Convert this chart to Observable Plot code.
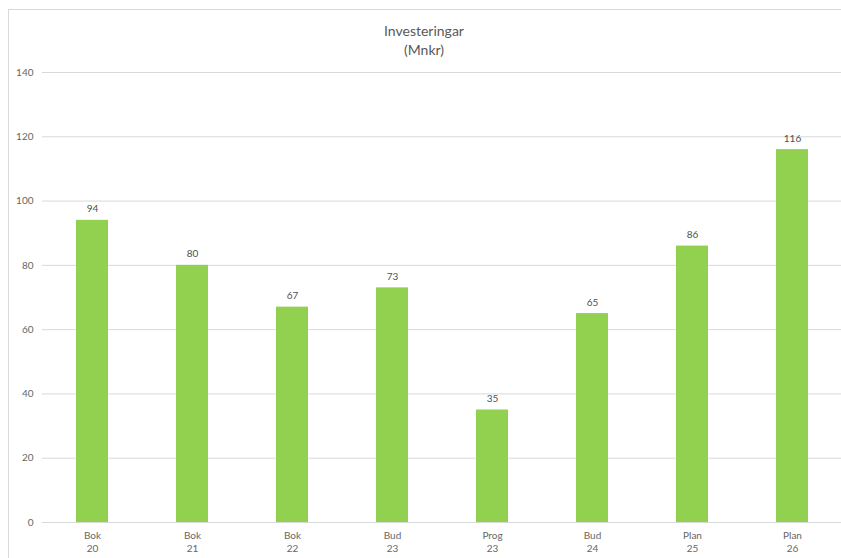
<!DOCTYPE html>
<html>
<head>
<meta charset="utf-8">
<script src="https://cdn.jsdelivr.net/npm/d3@7"></script>
<script src="https://cdn.jsdelivr.net/npm/@observablehq/plot@0.6"></script>
<style>
  html, body { margin: 0; padding: 0; background: #fff; overflow: hidden; }
  #wrap { position: relative; width: 841px; height: 558px; font-family: Lato, "Open Sans", sans-serif; }
  #frame { position: absolute; left: 8px; top: 9px; width: 840px; height: 560px; border: 1px solid #d9d9d9; box-sizing: border-box; }
  #title { position: absolute; left: 0; width: 848px; top: 21px; text-align: center; color: #595959; font-size: 14px; line-height: 19px; }
  #chart { position: absolute; left: 0; top: 0; }
</style>
</head>
<body>
<div id="wrap">
  <div id="frame"></div>
  <div id="chart"></div>
  <div id="title">Investeringar<br>(Mnkr)</div>
</div>
<script>
// Investeringar per år (Mnkr)
const kinds = ["Bok", "Bok", "Bok", "Bud", "Prog", "Bud", "Plan", "Plan"];
const years = ["20", "21", "22", "23", "23", "24", "25", "26"];
const values = [94, 80, 67, 73, 35, 65, 86, 116];
const yTicks = [0, 20, 40, 60, 80, 100, 120, 140];

const data = values.map((v, i) => ({ cat: `${kinds[i]}\n${years[i]}`, value: v }));
const order = data.map(d => d.cat);

const chart = Plot.plot({
  width: 841,
  height: 558,
  marginTop: 72,
  marginBottom: 36,
  marginLeft: 42,
  marginRight: -1,
  style: { fontFamily: "Lato, 'Open Sans', sans-serif", fontSize: "10px", color: "#595959", background: "transparent" },
  x: { domain: order, paddingInner: 0.68, paddingOuter: 0.34, align: 0.5 },
  y: { domain: [0, 140] },
  marks: [
    Plot.gridY(yTicks, { stroke: "#d9d9d9", strokeOpacity: 1, strokeWidth: 1 }),
    Plot.axisY(yTicks, { tickSize: 0, tickPadding: 9, label: null, fill: "#666666", fontSize: 10 }),
    Plot.barY(data, { x: "cat", y: "value", fill: "#92d050" }),
    Plot.axisX({ tickSize: 0, tickPadding: 8, label: null, fill: "#666666", fontSize: 10, lineHeight: 1.25 }),
    Plot.text(data, { x: "cat", y: "value", text: d => String(d.value), lineAnchor: "bottom", dy: -8, fill: "#505050", fontSize: 10 })
  ]
});
document.getElementById("chart").appendChild(chart);
</script>
</body>
</html>
